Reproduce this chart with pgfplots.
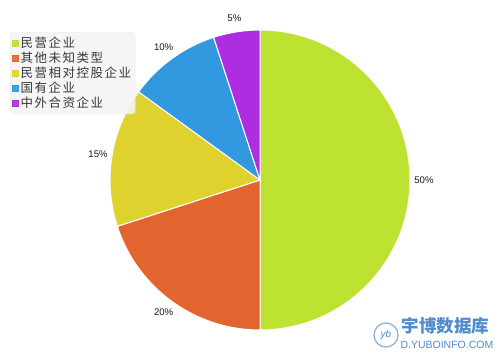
\documentclass[border=0pt]{standalone}
\usepackage{pgfplots}
\pgfplotsset{compat=1.18}
\usetikzlibrary{calc}
\usepackage{fontspec}
\setmainfont{Liberation Sans}
\newfontfamily\cjk{Noto Sans CJK SC}
\newfontfamily\cjkleg[LetterSpace=12]{Noto Sans CJK SC}
\definecolor{c1}{RGB}{189,226,49}
\definecolor{c2}{RGB}{226,101,48}
\definecolor{c3}{RGB}{224,210,46}
\definecolor{c4}{RGB}{50,153,224}
\definecolor{c5}{RGB}{175,45,224}
\definecolor{wm}{RGB}{80,140,205}
\tikzset{plab/.style={font=\fontsize{9.6}{10}\selectfont, text=black!90}}
% #1 cumulative start (%), #2 value (%), #3 colour
\newcommand\slice[3]{%
  \pgfmathsetmacro{\sa}{90-3.6*#1}%
  \pgfmathsetmacro{\ea}{90-3.6*(#1+#2)}%
  \pgfmathsetmacro{\ma}{(\sa+\ea)/2}%
  \edef\tmp{%
    \noexpand\fill[#3, draw=white, line width=1pt] (axis cs:260,180) -- ++(\sa:150pt) arc[start angle=\sa, end angle=\ea, radius=150pt] -- cycle;%
    \noexpand\node[plab] at ($(axis cs:260,180)+(\ma:164pt)$) {#2\noexpand\%};%
  }%
  \tmp
}
\begin{document}
\begin{tikzpicture}
\begin{axis}[
  scale only axis, width=500pt, height=360pt,
  xmin=0, xmax=500, ymin=0, ymax=360,
  axis lines=none, clip=false,
  legend style={at={(axis cs:10,328)}, anchor=north west,
    fill=gray!8, fill opacity=0.9, text opacity=1, draw=gray!15, rounded corners=3pt,
    font=\cjkleg\fontsize{12.5}{13}\selectfont, text=black!78,
    row sep=-1.2pt, inner xsep=2pt, inner ysep=3pt,
    /tikz/every even column/.append style={column sep=0pt},
    legend cell align=left},
  legend image code/.code={\fill[#1, rounded corners=0pt] (1pt,-3pt) rectangle (7pt,3pt);},
]
\fill[white] (axis cs:0,0) rectangle (axis cs:500,360);
\addlegendimage{c1}\addlegendentry{民营企业}
\addlegendimage{c2}\addlegendentry{其他未知类型}
\addlegendimage{c3}\addlegendentry{民营相对控股企业}
\addlegendimage{c4}\addlegendentry{国有企业}
\addlegendimage{c5}\addlegendentry{中外合资企业}
\slice{0}{50}{c1}
\slice{50}{20}{c2}
\slice{70}{15}{c3}
\slice{85}{10}{c4}
\slice{95}{5}{c5}
% watermark
\draw[wm!70, line width=1.2pt] (axis cs:386,25) circle[radius=12pt];
\node[wm, font=\itshape\fontsize{10}{10}\selectfont] at (axis cs:386,25) {yb};
\node[wm, anchor=west, font=\cjk\bfseries\fontsize{17.5}{17}\selectfont] at (axis cs:398,34) {宇博数据库};
\node[wm, anchor=west, font=\fontsize{10.5}{10}\selectfont] at (axis cs:397,15) {D.YUBOINFO.COM};
\end{axis}
\end{tikzpicture}
\end{document}
